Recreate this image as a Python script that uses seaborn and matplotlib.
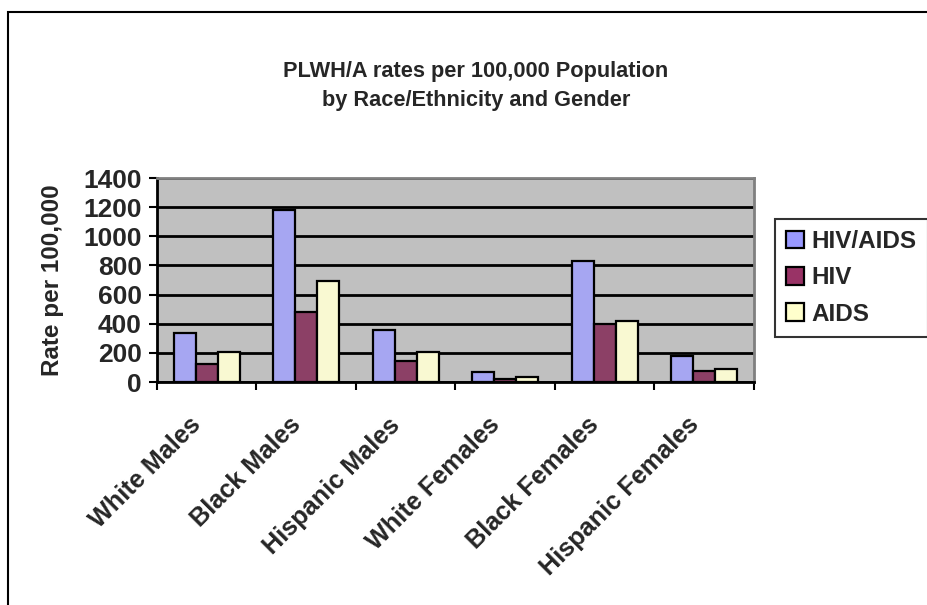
import matplotlib
matplotlib.use("Agg")
import matplotlib.pyplot as plt
import matplotlib.transforms as mtransforms
import seaborn as sns
import pandas as pd
from matplotlib.patches import Patch, Rectangle

categories = ["White Males", "Black Males", "Hispanic Males",
              "White Females", "Black Females", "Hispanic Females"]
series_names = ["HIV/AIDS", "HIV", "AIDS"]
hiv_aids = [336, 1180, 357, 66, 828, 176]
hiv = [125, 483, 146, 23, 400, 78]
aids = [209, 691, 208, 32, 419, 91]
y_ticks = [0, 200, 400, 600, 800, 1000, 1200, 1400]
colors = ["#9999FF", "#993366", "#FFFFCC"]

df = pd.DataFrame({
    "Category": categories * 3,
    "Series": [series_names[0]] * 6 + [series_names[1]] * 6 + [series_names[2]] * 6,
    "Value": hiv_aids + hiv + aids,
})

sns.set_theme(style="white")
plt.rcParams["font.family"] = ["Liberation Sans", "DejaVu Sans"]
plt.rcParams["font.weight"] = "bold"

fig = plt.figure(figsize=(9.28, 6.05), dpi=100)
fig.patch.set_facecolor("white")
ax = fig.add_axes([157 / 928, 1 - 382 / 605, (754 - 157) / 928, (382 - 178) / 605])

sns.barplot(data=df, x="Category", y="Value", hue="Series", order=categories,
            hue_order=series_names, palette=colors, width=0.667,
            edgecolor="black", linewidth=1.6, ax=ax, legend=False, zorder=3)

ax.set_facecolor("#C0C0C0")
ax.set_xlim(-0.5, 5.5)
ax.set_ylim(0, 1400)
ax.set_yticks(y_ticks)
ax.set_yticklabels([str(v) for v in y_ticks], fontsize=19, fontweight="bold")
ax.yaxis.grid(True, color="black", linewidth=2, zorder=1)
ax.set_axisbelow(True)
ax.tick_params(axis="y", direction="out", length=6, width=1.5, color="black", pad=5, left=True)

ax.set_xticks(range(len(categories)))
ax.set_xticklabels(categories, rotation=45, ha="right", rotation_mode="anchor",
                   fontsize=18.2, fontweight="bold")
ax.tick_params(axis="x", which="major", length=0, pad=20)
offset = mtransforms.ScaledTranslation(-18 / 100, -3 / 100, fig.dpi_scale_trans)
for lbl in ax.get_xticklabels():
    lbl.set_transform(lbl.get_transform() + offset)
ax.set_xticks([i - 0.5 for i in range(len(categories) + 1)], minor=True)
ax.tick_params(axis="x", which="minor", direction="out", length=6, width=1.5,
               color="black", bottom=True)

ax.set_xlabel("")
ax.set_ylabel("Rate per 100,000", fontsize=17.5, fontweight="bold")
ax.yaxis.set_label_coords(-0.155, 0.5)

for side in ["left", "bottom"]:
    ax.spines[side].set_color("black")
    ax.spines[side].set_linewidth(2)
for side in ["top", "right"]:
    ax.spines[side].set_color("#808080")
    ax.spines[side].set_linewidth(2)

fig.text(476 / 928, 1 - 86 / 605, "PLWH/A rates per 100,000 Population\nby Race/Ethnicity and Gender",
         ha="center", va="center", fontsize=15.7, fontweight="bold", linespacing=1.55)

handles = [Patch(facecolor=c, edgecolor="black", linewidth=1.6) for c in colors]
leg = fig.legend(handles, series_names, loc="upper left", bbox_to_anchor=(775 / 928, 1 - 219 / 605),
                 frameon=True, fancybox=False, edgecolor="black",
                 prop={"weight": "bold", "size": 17.5}, handlelength=0.75, handleheight=0.75,
                 handletextpad=0.3, labelspacing=0.55, borderpad=0.45, borderaxespad=0)
leg.get_frame().set_linewidth(1.5)

fig.patches.append(Rectangle((8 / 928, -0.1), 1.0, 1 - 12 / 605 + 0.1, transform=fig.transFigure,
                             fill=False, edgecolor="black", linewidth=1.5))

fig.savefig("out.png", dpi=100)
